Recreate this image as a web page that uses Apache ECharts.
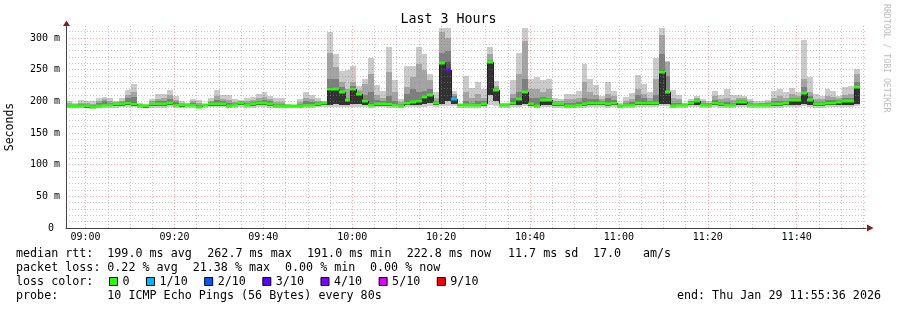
<!DOCTYPE html>
<html><head><meta charset="utf-8">
<script src="https://cdn.jsdelivr.net/npm/echarts@6/dist/echarts.min.js"></script>
<style>html,body{margin:0;padding:0;background:#fff}#c{width:897px;height:310px}</style>
</head><body><div id="c"></div>
<script>
// ---- data ----
const startTime = '08:55:36';
const stepSeconds = 80;
const endLabel = 'end: Thu Jan 29 11:55:36 2026';
const xTickLabels = ['09:00','09:20','09:40','10:00','10:20','10:40','11:00','11:20','11:40'];
const yTicks = [0,50,100,150,200,250,300];
const lossLegend = ['0','1/10','2/10','3/10','4/10','5/10','9/10'];
const lossSteps = [0,1,2,3,4,5,9];
const lossColors = ['#26ff00','#00b8ff','#0059ff','#5e00ff','#7e00ff','#dd00ff','#ff0000'];

const pingMax = [
200,197,202,200,200,205,207,205,201,205,
218,227,198,196,204,212,212,218,209,200,
198,204,202,196,205,218,210,210,204,202,
205,207,212,215,209,205,205,196,195,204,
215,210,205,201,310,275,248,250,256,225,
235,269,226,217,286,233,204,256,256,286,
275,243,214,316,316,217,196,240,221,230,
219,286,232,197,197,233,276,316,235,238,
233,235,206,204,212,212,217,259,235,226,
209,230,217,197,207,213,242,228,214,269,
316,264,218,210,198,203,209,204,201,217,
210,219,210,210,209,204,201,201,202,217,
219,214,221,214,297,239,212,209,219,216,
209,222,224,251,null];
const pingHigh1 = [
197,196,198,197,196,200,203,201,199,201,
210,215,196,195,200,204,205,210,202,198,
196,200,197,195,201,208,204,202,199,200,
200,202,205,207,203,199,199,195,194,199,
206,203,201,199,276,255,230,220,230,218,
228,243,210,206,246,215,199,222,238,259,
250,233,205,309,300,212,195,215,205,212,
206,275,225,196,196,212,243,296,219,220,
215,220,200,200,203,203,205,230,215,210,
203,212,208,195,200,203,220,212,205,235,
305,262,205,203,196,201,205,200,198,208,
203,206,202,205,205,200,198,198,199,206,
208,205,212,208,235,215,203,203,208,207,
205,210,212,243,null];
const pingHigh2 = [
195,195,196,195,194,197,200,198,198,199,
205,207,195,194,198,200,200,204,199,196,
195,198,195,195,199,202,200,197,197,199,
197,199,201,202,200,196,196,194,194,196,
200,199,199,198,236,235,222,206,224,214,
210,215,202,200,209,200,196,212,220,215,
217,220,200,277,280,208,195,200,198,200,
200,266,221,196,196,205,215,235,205,205,
207,205,198,198,197,197,199,205,203,203,
200,205,202,194,197,199,210,205,200,210,
275,240,197,198,195,200,203,197,197,202,
199,199,197,202,202,197,196,197,197,200,
201,200,206,205,222,208,199,199,202,202,
202,205,206,230,null];
const pingHigh3 = [
194,194,194,194,193,195,197,196,197,198,
200,199,194,193,197,198,198,199,197,195,
195,197,193,195,197,198,198,195,196,198,
196,197,199,199,198,195,195,194,194,195,
197,197,198,198,222,221,217,204,222,213,
203,198,198,198,199,197,195,200,201,203,
209,212,199,262,262,206,195,196,196,197,
198,264,219,196,196,200,206,216,198,195,
204,204,197,197,195,195,197,198,199,200,
199,198,200,194,196,197,199,200,199,199,
249,216,195,197,195,199,202,196,196,200,
197,197,196,200,200,196,195,196,196,197,
198,198,204,204,215,204,197,197,200,200,
200,202,202,225,null];
const median = [
193,193,193,192,191,193,194,194,196,196,
197,196,193,192,196,196,196,197,195,194,
194,195,191,194,196,196,196,193,194,197,
194,196,197,197,196,193,193,193,193,193,
195,195,196,197,220,219,215,202,220,212,
201,195,196,196,196,195,193,198,199,200,
207,210,197,261,250,204,194,194,194,195,
196,262.7,218,195,195,198,204,214,196,193,
202,202,196,196,193,193,195,196,197,198,
197,196,198,193,195,195,197,198,197,197,
247,214,193,195,194,198,201,195,195,198,
196,195,194,199,199,195,194,195,195,196,
196,197,202,202,213,202,196,196,198,198,
199,200,200,222.8,null];
const pingLow = [
191,191,191,190,190,191,192,192,193,193,
194,193,191,190,193,193,193,194,192,191,
192,192,190,192,193,193,193,191,192,194,
192,193,194,194,193,191,191,191,191,191,
192,192,193,194,195,196,195,195,196,196,
195,192,193,193,193,192,191,194,195,195,
196,197,194,196,200,196,192,192,192,192,
193,210,200,192,192,194,195,196,193,191,
195,195,193,193,191,191,192,193,194,194,
194,193,194,191,192,192,194,194,194,194,
196,196,191,192,192,194,195,192,192,194,
193,192,192,194,194,192,192,192,192,193,
193,194,195,195,196,195,193,193,194,194,
194,195,195,196,null];
const pingMin = [
189,189,189,189,188,189,190,189,190,191,
191,191,190,189,190,190,190,191,190,190,
190,190,189,190,191,191,191,189,190,191,
190,190,191,191,190,189,189,190,190,189,
190,190,191,191,191,191,191,191,191,191,
191,190,191,191,190,190,189,191,191,191,
191,192,191,192,193,192,190,190,190,190,
191,195,193,190,190,191,191,192,191,189,
191,191,190,190,189,189,190,190,191,191,
191,190,191,189,190,190,191,191,191,191,
192,192,189,190,190,191,191,190,190,191,
190,190,190,191,191,190,190,190,190,190,
190,191,191,191,192,191,190,190,191,191,
191,191,191,192,null];
const lossPct = [
0,0,0,0,0,0,0,0,0,0, 0,0,0,0,0,0,0,0,0,0,
0,0,0,0,0,0,0,0,0,0, 0,0,0,0,0,0,0,0,0,0,
0,0,0,0,0,0,0,0,0,0, 0,0,0,0,0,0,0,0,0,0,
0,0,0,0,21.38,8.3,0,0,0,0, 0,0,0,0,0,0,0,0,0,0,
0,0,0,0,0,0,0,0,0,0, 0,0,0,0,0,0,0,0,0,0,
0,0,0,0,0,0,0,0,0,0, 0,0,0,0,0,0,0,0,0,0,
0,0,0,0,0,0,0,0,0,0, 0,0,0,0,null];

// ---- build ----
const MONO = '"DejaVu Sans Mono", monospace';
const toMin = s => { const p = s.split(':').map(Number); return p[0]*60 + p[1] + (p[2]||0)/60; };
const stepMin = stepSeconds/60;
const tStart = toMin(startTime);
const tEnd = tStart + median.length*stepMin;
const fmtHM = v => { const h = Math.floor(v/60), m = Math.round(v - h*60); return (h<10?'0':'')+h+':'+(m<10?'0':'')+m; };
const xLabelVals = xTickLabels.map(toMin);
const xGridVals = [];
for (let v = Math.ceil(tStart/5)*5; v <= tEnd; v += 5) xGridVals.push(v);
const yGridVals = [];
for (let v = 0; v <= 310; v += 10) yGridVals.push(v);

function lossIndex(p){
  const t = p/10;
  if (!(t > 0)) return 0;
  for (let k = 1; k < lossSteps.length; k++) if (t <= lossSteps[k]) return k;
  return lossSteps.length-1;
}

const rows = [];
for (let i = 0; i < median.length; i++) {
  if (median[i] == null) continue;
  const t0 = tStart + i*stepMin;
  rows.push([t0, t0+stepMin, pingMin[i], pingLow[i], median[i], pingHigh3[i], pingHigh2[i], pingHigh1[i], pingMax[i], i]);
}

function renderItem(params, api) {
  const i = api.value(9);
  const t0 = api.value(0), t1 = api.value(1);
  const xa = Math.round(api.coord([t0, 0])[0]);
  const xb = Math.round(api.coord([t1, 0])[0]);
  const Y = v => Math.round(api.coord([t0, v])[1]);
  const band = (lo, hi, fill) => ({type:'rect', shape:{x:xa, y:Y(hi), width:xb-xa, height:Math.max(0, Y(lo)-Y(hi))}, style:{fill}});
  const ch = [
    band(api.value(2), api.value(8), '#cacaca'),
    band(api.value(3), api.value(7), '#a4a4a4'),
    band(api.value(3), api.value(6), '#7e7e7e'),
    band(api.value(3), api.value(5), '#585858'),
    band(api.value(3), api.value(4), '#323232')
  ];
  const ym = Y(api.value(4));
  if (i > 0 && median[i-1] != null) {
    const yp = Y(median[i-1]);
    ch.push({type:'line', shape:{x1:xa+0.5, y1:yp, x2:xa+0.5, y2:ym}, style:{stroke:'#202020', lineWidth:1}});
  }
  ch.push({type:'rect', shape:{x:xa, y:ym-1.5, width:xb-xa, height:3}, style:{fill: lossColors[lossIndex(lossPct[i])]}});
  return {type:'group', children: ch};
}

const GRIDC = 'rgba(140,140,140,0.5)';
const MGRIDC = 'rgba(255,60,60,0.45)';

const legendSeries = lossLegend.map((n, k) => ({name:n, type:'line', data:[], color: lossColors[k], itemStyle:{color: lossColors[k]}}));

const textLines = [
  [16,254,'median rtt:'],[107.3,254,'199.0 ms avg'],[207.3,254,'262.7 ms max'],[307,254,'191.0 ms min'],[406.7,254,'222.8 ms now'],[508,254,'11.7 ms sd'],[593,254,'17.0'],[643,254,'am/s'],
  [16,268,'packet loss:'],[107.3,268,'0.22 % avg'],[192.7,268,'21.38 % max'],[285,268,'0.00 % min'],[370,268,'0.00 % now'],
  [16,282,'loss color:'],
  [16,296,'probe:'],[107.3,296,'10 ICMP Echo Pings (56 Bytes) every 80s']
];
const graphics = textLines.map(t => ({type:'text', x:t[0], y:t[1], silent:true, style:{text:t[2], font:'11.7px '+MONO, fill:'#000', align:'left', verticalAlign:'middle'}}));
graphics.push({type:'text', x:881, y:296, silent:true, style:{text:endLabel, font:'11.7px '+MONO, fill:'#000', align:'right', verticalAlign:'middle'}});
graphics.push({type:'text', x:886, y:4, rotation:-Math.PI/2, silent:true, style:{text:'RRDTOOL / TOBI OETIKER', font:'8.2px '+MONO, fill:'#bbbbbb', align:'left', verticalAlign:'middle'}});
graphics.push({type:'polygon', silent:true, z:10, shape:{points:[[63,26],[70,26],[66.5,20.5]]}, style:{fill:'#8b1a1a'}});
graphics.push({type:'polygon', silent:true, z:10, shape:{points:[[867,224.5],[867,231.5],[873.5,228]]}, style:{fill:'#8b1a1a'}});

const chart = echarts.init(document.getElementById('c'), null, {renderer:'canvas'});
chart.setOption({
  animation:false,
  backgroundColor:'#fff',
  title:{text:'Last 3 Hours', left:'center', top:13.5, padding:0, textStyle:{fontFamily:MONO, fontSize:13.3, fontWeight:'normal', color:'#000'}},
  grid:{left:66, right:31, top:26, bottom:82, containLabel:false, outerBoundsMode:'none'},
  legend:{data:lossLegend, left:109, top:275.5, padding:0, icon:'rect', itemWidth:8, itemHeight:8, itemGap:16.5, selectedMode:false,
    itemStyle:{borderColor:'#000', borderWidth:1}, textStyle:{fontFamily:MONO, fontSize:11.7, color:'#000'}},
  xAxis:{type:'value', min:tStart, max:tEnd, z:3,
    axisLine:{show:true, onZero:false, lineStyle:{color:'#444', width:1}},
    axisTick:{show:false, customValues:xGridVals},
    axisLabel:{show:true, customValues:xLabelVals, formatter:v=>fmtHM(v), fontFamily:MONO, fontSize:10, color:'#000', margin:4},
    splitLine:{show:true, lineStyle:{color:[MGRIDC,GRIDC,GRIDC,GRIDC], type:[1,2], width:1}}},
  yAxis:{type:'value', min:0, max:319, z:3,
    name:'Seconds', nameLocation:'middle', nameGap:50, nameTextStyle:{fontFamily:MONO, fontSize:11.5, color:'#000'},
    axisLine:{show:true, lineStyle:{color:'#444', width:1}},
    axisTick:{show:false, customValues:yGridVals},
    axisLabel:{show:true, customValues:yTicks, formatter:v=> v===0 ? '0 ' : v+' m', fontFamily:MONO, fontSize:10, color:'#000', margin:6},
    splitLine:{show:true, lineStyle:{color:[MGRIDC,GRIDC,GRIDC,GRIDC,GRIDC], type:[1,2], width:1}}},
  graphic: graphics,
  series:[{type:'custom', renderItem, data:rows, encode:{x:[0,1], y:[2,8]}, silent:true, z:2}].concat(legendSeries)
});
</script></body></html>
